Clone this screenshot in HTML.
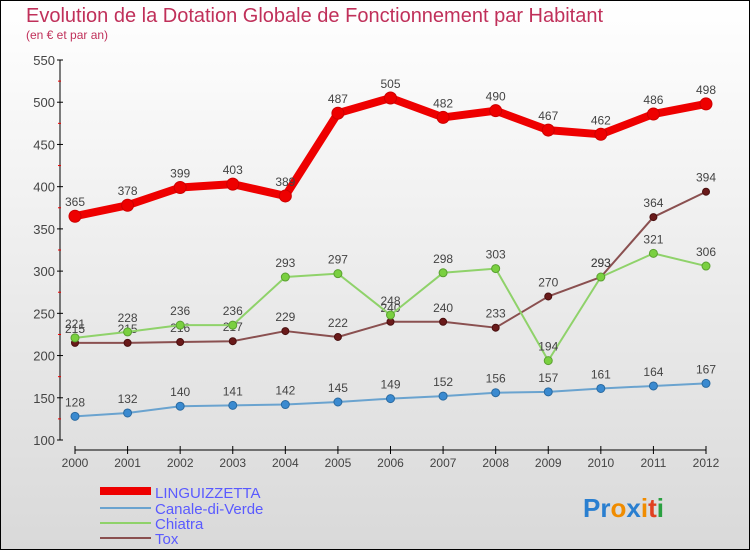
<!DOCTYPE html>
<html><head><meta charset="utf-8"><style>
body{margin:0;width:750px;height:550px;overflow:hidden;font-family:"Liberation Sans",sans-serif}
</style></head><body>
<svg id="c" width="750" height="550" xmlns="http://www.w3.org/2000/svg">
<defs><linearGradient id="bg" x1="0" y1="0" x2="0" y2="1"><stop offset="0" stop-color="#ffffff"/><stop offset="1" stop-color="#d9d9d9"/></linearGradient></defs>
<rect x="0.5" y="0.5" width="749" height="549" fill="url(#bg)" stroke="#000"/>
<text x="26" y="22" font-size="20" fill="#c0305a">Evolution de la Dotation Globale de Fonctionnement par Habitant</text>
<text x="26" y="39" font-size="12" fill="#c0305a">(en € et par an)</text>
<g id="axes"></g><g id="series"></g>
<g>
<rect x="100" y="487" width="51" height="8" fill="#ee0000"/>
<line x1="100" y1="508" x2="151" y2="508" stroke="#6aa3cf" stroke-width="2"/>
<line x1="100" y1="523" x2="151" y2="523" stroke="#8fd26a" stroke-width="2"/>
<line x1="100" y1="538" x2="151" y2="538" stroke="#8a5050" stroke-width="2"/>
<g font-size="15" fill="#5a5aff">
<text x="155" y="498">LINGUIZZETTA</text>
<text x="155" y="514">Canale-di-Verde</text>
<text x="155" y="529">Chiatra</text>
<text x="155" y="544">Tox</text>
</g></g>
<text x="583" y="517" font-size="26" font-weight="bold"><tspan fill="#2a7fd0">Pr</tspan><tspan fill="#f08c00">o</tspan><tspan fill="#2a7fd0">x</tspan><tspan fill="#f08c00">i</tspan><tspan fill="#e04020">t</tspan><tspan fill="#2aa040">i</tspan></text>
</svg>
<script>
const years=["2000","2001","2002","2003","2004","2005","2006","2007","2008","2009","2010","2011","2012"];
const yTicks=[100,150,200,250,300,350,400,450,500,550];
const linguizzetta=[365,378,399,403,389,487,505,482,490,467,462,486,498];
const canale=[128,132,140,141,142,145,149,152,156,157,161,164,167];
const chiatra=[221,228,236,236,293,297,248,298,303,194,293,321,306];
const tox=[215,215,216,217,229,222,240,240,233,270,293,364,394];
const NS="http://www.w3.org/2000/svg";
const X=i=>75+i*(706-75)/(years.length-1);
const Y=v=>60+(550-v)*(380/450);
function mk(t,a,p){const e=document.createElementNS(NS,t);for(const k in a)e.setAttribute(k,a[k]);p.appendChild(e);return e;}
const ax=document.getElementById('axes');
mk('line',{x1:60,y1:60,x2:60,y2:440,stroke:'#000'},ax);
mk('line',{x1:75,y1:450,x2:706,y2:450,stroke:'#000'},ax);
yTicks.forEach((v,i)=>{
 mk('line',{x1:57,y1:Y(v),x2:63,y2:Y(v),stroke:'#000'},ax);
 if(i<yTicks.length-1)mk('line',{x1:58,y1:Y(v+25),x2:61,y2:Y(v+25),stroke:'#e00'},ax);
 const t=mk('text',{x:55,y:Y(v)+5,'text-anchor':'end','font-size':13,fill:'#444'},ax);t.textContent=v;
 
 
});
years.forEach((y,i)=>{
 mk('line',{x1:X(i),y1:446,x2:X(i),y2:454,stroke:'#000'},ax);
 const t=mk('text',{x:X(i),y:467,'text-anchor':'middle','font-size':12,fill:'#444'},ax);t.textContent=y;
 
 
});
const sg=document.getElementById('series');
function series(name,data,color,w,r,dot,stroke){
 const g=mk('g',{},sg);
 
 
 mk('polyline',{points:data.map((v,i)=>X(i)+','+Y(v)).join(' '),fill:'none',stroke:color,'stroke-width':w,'stroke-linejoin':'round'},g);
 data.forEach((v,i)=>{
  const c=mk('circle',{cx:X(i),cy:Y(v),r:r,fill:dot,stroke:stroke,'stroke-width':1},g);
  
  
  const t=mk('text',{x:X(i),y:Y(v)-10,'text-anchor':'middle','font-size':12,fill:'#444'},g);t.textContent=v;
  
  
 });
}
series('canale',canale,'#6aa3cf',2,4,'#3a8ad0','#2a6aa0');
series('tox',tox,'#8a5050',2,3.5,'#6a1a1a','#4a1010');
series('chiatra',chiatra,'#8fd26a',2,4,'#7ad040','#5aa030');
series('linguizzetta',linguizzetta,'#ee0000',8,6,'#ee0000','#cc0000');
</script>
</body></html>
